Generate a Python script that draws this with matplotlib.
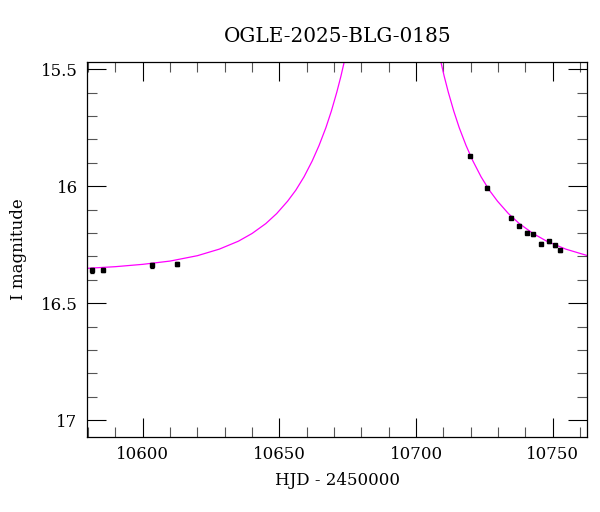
# OGLE-2025-BLG-0185 light curve with the model curve

import matplotlib
matplotlib.use("Agg")
import matplotlib.pyplot as plt
from matplotlib.ticker import MultipleLocator, FormatStrFormatter

# photometry (HJD - 2450000, I mag, error)
hjd = [10581.3, 10585.4, 10603.3, 10612.4,
       10719.8, 10725.9, 10734.6, 10737.8, 10740.7, 10742.9,
       10745.7, 10748.7, 10750.7, 10752.7]
mag = [16.359, 16.358, 16.338, 16.332,
       15.871, 16.007, 16.135, 16.168, 16.198, 16.206,
       16.245, 16.236, 16.253, 16.274]
err = [0.010, 0.010, 0.010, 0.008,
       0.006, 0.006, 0.006, 0.006, 0.006, 0.006,
       0.006, 0.006, 0.006, 0.006]

# model curve, rising branch and falling branch
model_t_rise = [10579.7, 10590.0, 10600.0, 10610.0, 10620.0, 10628.0, 10635.0,
                10640.0, 10645.0, 10649.0, 10653.0, 10656.0, 10659.0,
                10662.0, 10664.5, 10667.0, 10669.0, 10671.0, 10672.5,
                10674.0, 10675.0]
model_m_rise = [16.351, 16.344, 16.334, 16.320, 16.297, 16.269, 16.235,
                16.202, 16.160, 16.117, 16.064, 16.017, 15.960,
                15.892, 15.826, 15.750, 15.679, 15.598, 15.530,
                15.454, 15.398]
model_t_fall = [10707.8, 10708.8, 10710.3, 10711.8, 10713.8, 10715.8, 10718.3,
                10720.8, 10723.8, 10726.8, 10729.8, 10733.8, 10737.8,
                10742.8, 10747.8, 10754.8, 10762.8]
model_m_fall = [15.398, 15.454, 15.530, 15.598, 15.679, 15.750, 15.826,
                15.892, 15.960, 16.017, 16.064, 16.117, 16.160,
                16.202, 16.235, 16.269, 16.297]

plt.rcParams['font.family'] = ['DejaVu Serif']
plt.rcParams['font.size'] = 12

fig = plt.figure(figsize=(6, 5.12), dpi=100)
ax = fig.add_axes([0.1455, 0.147, 0.8335, 0.731])

ax.plot(model_t_rise, model_m_rise, color='#ff00ff', lw=0.9)
ax.plot(model_t_fall, model_m_fall, color='#ff00ff', lw=0.9)
ax.errorbar(hjd, mag, yerr=err, fmt='s', color='black', ms=3.2,
            elinewidth=0.9, capsize=1.5, capthick=0.9, zorder=3)

ax.set_xlim(10579.7, 10762.7)
ax.set_ylim(17.071, 15.471)

ax.xaxis.set_major_locator(MultipleLocator(50))
ax.xaxis.set_minor_locator(MultipleLocator(10))
ax.yaxis.set_major_locator(MultipleLocator(0.5))
ax.yaxis.set_minor_locator(MultipleLocator(0.1))
ax.yaxis.set_major_formatter(FormatStrFormatter('%g'))

ax.tick_params(which='both', direction='in', top=True, right=True, width=0.8)
ax.tick_params(which='major', length=13.5, pad=7)
ax.tick_params(which='minor', length=7, color='#555555')
for s in ax.spines.values():
    s.set_linewidth(0.9)

ax.set_xlabel('HJD - 2450000', labelpad=6)
ax.set_ylabel('I magnitude', labelpad=10)
ax.set_title('OGLE-2025-BLG-0185', pad=15)

fig.savefig('out.png', dpi=100)
